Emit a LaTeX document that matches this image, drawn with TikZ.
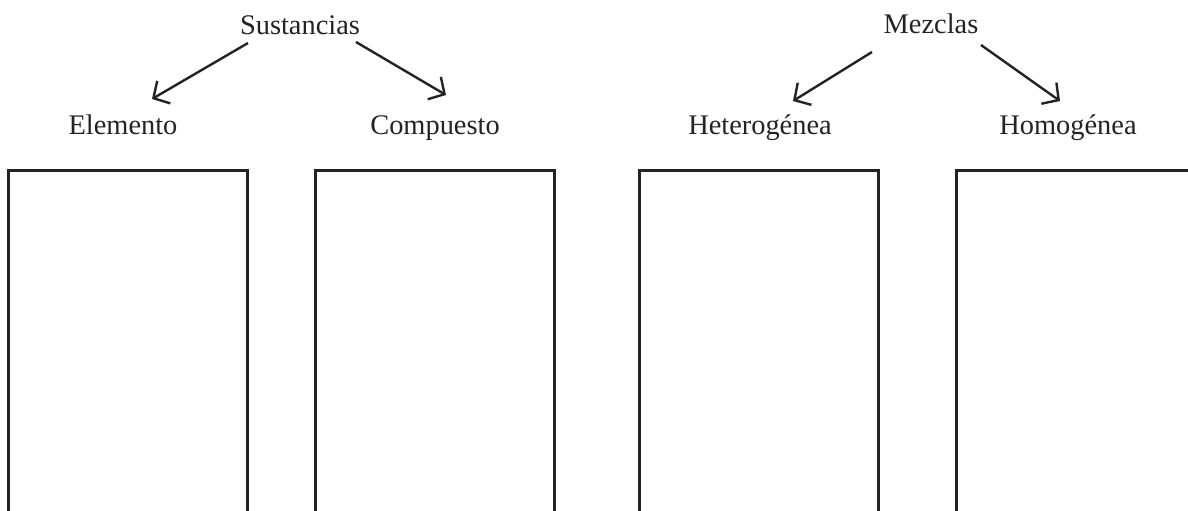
\documentclass[tikz,border=0pt]{standalone}
\usepackage{fontspec}
\setmainfont{Liberation Serif}
\usetikzlibrary{arrows.meta}
\definecolor{inkgray}{RGB}{35,35,35}

\begin{document}
\begin{tikzpicture}[x=0.5pt, y=-0.5pt,
    label text/.style={anchor=base, inner sep=0pt, font=\fontsize{14.2}{16}\selectfont, text=inkgray},
    branch/.style={draw=inkgray, line width=1.2pt, -{Straight Barb[length=6pt, width=13pt, line width=1.2pt]}},
    sheet/.style={draw=inkgray, line width=1.5pt}]
    \useasboundingbox (0,0) rectangle (1188,510);
    \clip (0,0) rectangle (1188,510);

    % Titles and branches
    \node[label text] (sust) at (300,34) {Sustancias};
    \node[label text] (elem) at (123,134) {Elemento};
    \node[label text] (comp) at (435,134) {Compuesto};
    \node[label text] (mezc) at (931,33) {Mezclas};
    \node[label text] (hete) at (760,134) {Heterogénea};
    \node[label text] (homo) at (1068,134) {Homogénea};

    \coordinate (sustL) at (248,43);
    \coordinate (sustR) at (356,42);
    \coordinate (elemT) at (152,99);
    \coordinate (compT) at (446,95);
    \coordinate (mezcL) at (872,52);
    \coordinate (mezcR) at (981,45);
    \coordinate (heteT) at (793,101);
    \coordinate (homoT) at (1060,101);

    \draw[branch] (sustL) -- (elemT);
    \draw[branch] (sustR) -- (compT);
    \draw[branch] (mezcL) -- (heteT);
    \draw[branch] (mezcR) -- (homoT);

    % Empty boxes (cut off at the bottom)
    \draw[sheet] (8,170) rectangle (247,530);
    \draw[sheet] (315,170) rectangle (554,530);
    \draw[sheet] (639,170) rectangle (878,530);
    \draw[sheet] (956,170) rectangle (1200,530);
\end{tikzpicture}
\end{document}
